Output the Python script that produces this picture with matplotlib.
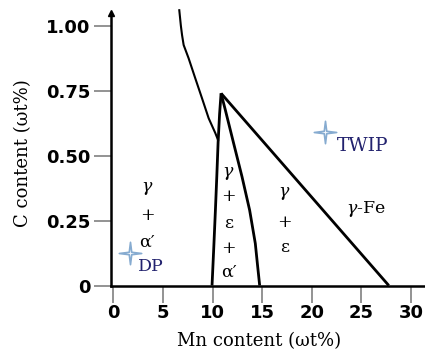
import matplotlib
matplotlib.use("Agg")
import matplotlib.pyplot as plt
from matplotlib.path import Path

# ---- data ----
x_ticks = [0, 5, 10, 15, 20, 25, 30]
y_ticks = [0, 0.25, 0.50, 0.75, 1.00]
y_ticklabels = ["0", "0.25", "0.50", "0.75", "1.00"]

# curve coming from the top
curve_top_x = [6.64, 6.80, 6.92, 7.08, 7.58, 8.25, 8.93, 9.60, 10.27, 10.54]
curve_top_y = [1.06, 1.00, 0.964, 0.926, 0.875, 0.798, 0.721, 0.644, 0.587, 0.561]

# left boundary of gamma+eps+alpha' region
left_x = [9.94, 10.12, 10.28, 10.42, 10.55, 10.70, 10.85]
left_y = [0.0, 0.15, 0.29, 0.42, 0.55, 0.66, 0.74]

# middle curve (gamma+eps+alpha' / gamma+eps)
mid_x = [10.85, 11.28, 12.12, 12.96, 13.73, 14.30, 14.52, 14.74]
mid_y = [0.74, 0.676, 0.547, 0.419, 0.290, 0.162, 0.08, 0.0]

# right straight boundary to gamma-Fe
right_x = [10.85, 27.75]
right_y = [0.74, 0.0]

# steel grades
grade_names = ["DP", "TWIP"]
grade_x = [1.70, 21.35]
grade_y = [0.125, 0.593]

fig = plt.figure(figsize=(4.25, 3.53), dpi=100)
ax = fig.add_axes([0.2612, 0.1912, 0.7388, 0.7688])
ax.set_xlim(-0.24, 31.4)
ax.set_ylim(0, 1.045)

lw = 2.0
ax.plot(curve_top_x, curve_top_y, color="black", lw=1.5, clip_on=False)
ax.plot(left_x, left_y, color="black", lw=lw, solid_capstyle="butt")
ax.plot(mid_x, mid_y, color="black", lw=lw, solid_capstyle="butt")
ax.plot(right_x, right_y, color="black", lw=lw, solid_capstyle="butt")

# four-pointed star marker
a = 0.11
star = Path([(0, 1), (a, a), (1, 0), (a, -a), (0, -1), (-a, -a), (-1, 0), (-a, a), (0, 1)],
            [Path.MOVETO] + [Path.LINETO] * 7 + [Path.CLOSEPOLY])
ax.scatter(grade_x, grade_y, marker=star, s=260, facecolor="#f6f9fd",
           edgecolor="#86abd0", linewidths=1.2, zorder=5, clip_on=False)

serif = ["DejaVu Serif"]
plt.rcParams["mathtext.fontset"] = "dejavuserif"
navy = "#22226e"
ax.text(2.48, grade_y[0] - 0.05, grade_names[0], fontsize=12.5,
        family=serif, color=navy, ha="left", va="center")
ax.text(22.47, grade_y[1] - 0.055, grade_names[1], fontsize=13.5,
        family=serif, color=navy, ha="left", va="center")

tk = dict(fontsize=12.5, family=serif, color="black", ha="center", va="center")
# gamma + alpha'
ax.text(3.39, 0.372, r"$\gamma$", **tk)
ax.text(3.39, 0.268, "+", **tk)
ax.text(3.39, 0.165, "α′", **tk)
# gamma + eps + alpha'
ax.text(11.6, 0.432, r"$\gamma$", **tk)
ax.text(11.6, 0.342, "+", **tk)
ax.text(11.6, 0.239, "ε", **tk)
ax.text(11.6, 0.143, "+", **tk)
ax.text(11.6, 0.05, "α′", **tk)
# gamma + eps
ax.text(17.26, 0.353, r"$\gamma$", **tk)
ax.text(17.26, 0.244, "+", **tk)
ax.text(17.26, 0.148, "ε", **tk)
# gamma-Fe
ax.text(23.45, 0.295, r"$\gamma$-Fe", fontsize=12.5, family=serif, ha="left", va="center")

# axes styling
for s in ["top", "right"]:
    ax.spines[s].set_visible(False)
ax.spines["left"].set_linewidth(1.8)
ax.spines["bottom"].set_linewidth(1.8)

ax.set_xticks(x_ticks)
ax.set_xticklabels([str(v) for v in x_ticks])
ax.set_yticks(y_ticks)
ax.set_yticklabels(y_ticklabels)
ax.tick_params(axis="both", direction="out", length=12, width=1.2, color="#808080")
ax.tick_params(axis="x", pad=1.5)
ax.tick_params(axis="y", pad=3)
for lab in ax.get_xticklabels() + ax.get_yticklabels():
    lab.set_fontfamily("DejaVu Sans")
    lab.set_fontweight("bold")
    lab.set_fontsize(13)

# arrow on top of y axis
ax.plot([-0.24], [1.05], marker="^", color="black", markersize=5, clip_on=False)

ax.set_xlabel("Mn content (ωt%)", fontsize=13, family=serif)
ax.set_ylabel("C content (ωt%)", fontsize=13, family=serif)
ax.xaxis.label.set_va("center")
ax.yaxis.label.set_va("center")
ax.xaxis.set_label_coords(0.471, -0.2045)
ax.yaxis.set_label_coords(-0.280, 0.488)

fig.savefig("out.png", dpi=100)
